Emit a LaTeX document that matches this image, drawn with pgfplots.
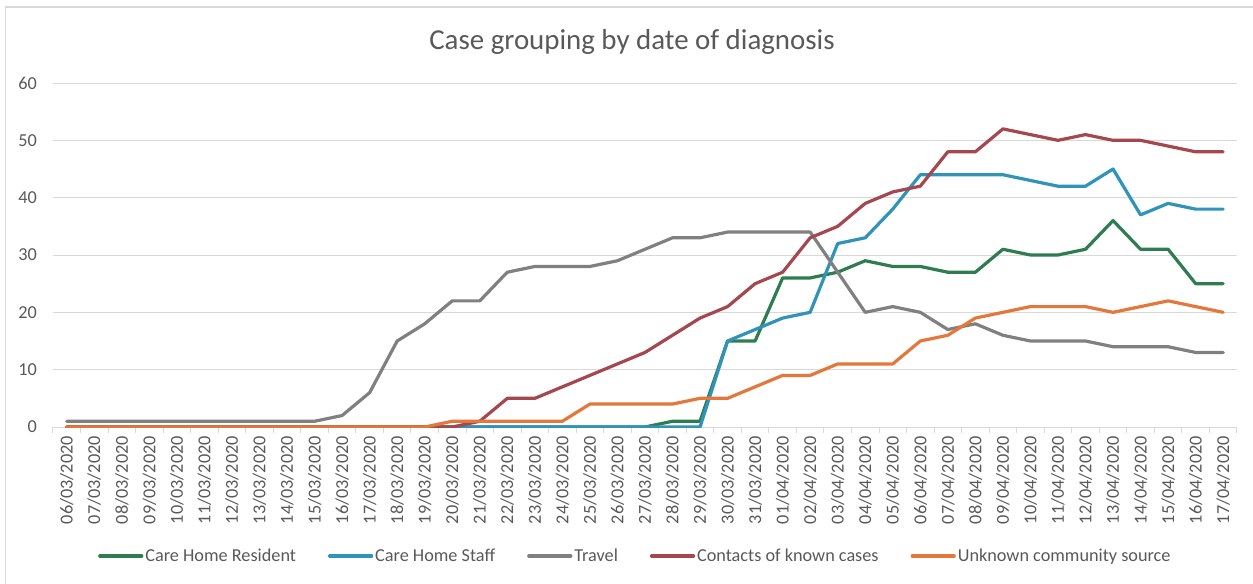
\documentclass[border=0pt]{standalone}
\usepackage{pgfplots}
\pgfplotsset{compat=1.18}
\usepackage{fontspec}
\setmainfont{Carlito}
\definecolor{cgreen}{RGB}{46,125,80}
\definecolor{cblue}{RGB}{47,147,186}
\definecolor{cgray}{RGB}{128,128,128}
\definecolor{cred}{RGB}{165,71,79}
\definecolor{corange}{RGB}{228,119,58}
\definecolor{gridgray}{RGB}{217,217,217}
\definecolor{txtgray}{RGB}{89,89,89}
\definecolor{bordergray}{RGB}{217,217,217}
\begin{document}
\begin{tikzpicture}
\begin{axis}[
  at={(0,0)}, anchor=south west,
  scale only axis, width=1184bp, height=344bp,
  xmin=-0.5, xmax=42.5, ymin=0, ymax=60,
  separate axis lines,
  axis x line*=bottom, axis y line*=left,
  x axis line style={draw=gridgray, line width=1bp},
  y axis line style={draw=none},
  ytick={0,10,...,60},
  ymajorgrids, grid style={draw=gridgray, line width=1bp},
  xtick={0,...,42},
  xticklabels={06/03/2020,07/03/2020,08/03/2020,09/03/2020,10/03/2020,11/03/2020,12/03/2020,13/03/2020,14/03/2020,15/03/2020,16/03/2020,17/03/2020,18/03/2020,19/03/2020,20/03/2020,21/03/2020,22/03/2020,23/03/2020,24/03/2020,25/03/2020,26/03/2020,27/03/2020,28/03/2020,29/03/2020,30/03/2020,31/03/2020,01/04/2020,02/04/2020,03/04/2020,04/04/2020,05/04/2020,06/04/2020,07/04/2020,08/04/2020,09/04/2020,10/04/2020,11/04/2020,12/04/2020,13/04/2020,14/04/2020,15/04/2020,16/04/2020,17/04/2020},
  minor xtick={-0.5,0.5,...,42.5},
  major tick length=0pt, minor tick length=6bp,
  tick align=outside,
  minor x tick style={draw=gridgray, line width=1bp},
  major tick style={draw=none},
  /pgf/number format/assume math mode=true,
  xticklabel style={rotate=90, anchor=east, inner sep=0pt, inner xsep=9bp, text=txtgray, font=\fontsize{18.3}{21}\selectfont},
  yticklabel style={anchor=east, inner sep=0pt, inner xsep=16bp, text=txtgray, font=\fontsize{18.3}{21}\selectfont},
  legend columns=5,
  legend cell align=left,
  legend style={at={(axis description cs:0.038,-0.375)}, anchor=west, draw=none, fill=none,
    inner sep=0pt, font=\fontsize{18.3}{21}\selectfont, text=txtgray,
    /tikz/every even column/.append style={column sep=30bp},
    nodes={inner sep=0pt, inner xsep=2bp}},
  legend image code/.code={\draw[#1, line width=3.2bp] (0bp,0bp) -- (42bp,0bp);},
  every axis plot/.append style={line width=3.2bp, line join=round, line cap=round},
]
\addplot[cgreen] table {
x y
0 0
1 0
2 0
3 0
4 0
5 0
6 0
7 0
8 0
9 0
10 0
11 0
12 0
13 0
14 0
15 0
16 0
17 0
18 0
19 0
20 0
21 0
22 1
23 1
24 15
25 15
26 26
27 26
28 27
29 29
30 28
31 28
32 27
33 27
34 31
35 30
36 30
37 31
38 36
39 31
40 31
41 25
42 25
};
\addlegendentry{Care Home Resident}
\addplot[cblue] table {
x y
0 0
1 0
2 0
3 0
4 0
5 0
6 0
7 0
8 0
9 0
10 0
11 0
12 0
13 0
14 0
15 0
16 0
17 0
18 0
19 0
20 0
21 0
22 0
23 0
24 15
25 17
26 19
27 20
28 32
29 33
30 38
31 44
32 44
33 44
34 44
35 43
36 42
37 42
38 45
39 37
40 39
41 38
42 38
};
\addlegendentry{Care Home Staff}
\addplot[cgray] table {
x y
0 1
1 1
2 1
3 1
4 1
5 1
6 1
7 1
8 1
9 1
10 2
11 6
12 15
13 18
14 22
15 22
16 27
17 28
18 28
19 28
20 29
21 31
22 33
23 33
24 34
25 34
26 34
27 34
28 27
29 20
30 21
31 20
32 17
33 18
34 16
35 15
36 15
37 15
38 14
39 14
40 14
41 13
42 13
};
\addlegendentry{Travel}
\addplot[cred] table {
x y
0 0
1 0
2 0
3 0
4 0
5 0
6 0
7 0
8 0
9 0
10 0
11 0
12 0
13 0
14 0
15 1
16 5
17 5
18 7
19 9
20 11
21 13
22 16
23 19
24 21
25 25
26 27
27 33
28 35
29 39
30 41
31 42
32 48
33 48
34 52
35 51
36 50
37 51
38 50
39 50
40 49
41 48
42 48
};
\addlegendentry{Contacts of known cases}
\addplot[corange] table {
x y
0 0
1 0
2 0
3 0
4 0
5 0
6 0
7 0
8 0
9 0
10 0
11 0
12 0
13 0
14 1
15 1
16 1
17 1
18 1
19 4
20 4
21 4
22 4
23 5
24 5
25 7
26 9
27 9
28 11
29 11
30 11
31 15
32 16
33 19
34 20
35 21
36 21
37 21
38 20
39 21
40 22
41 21
42 20
};
\addlegendentry{Unknown community source}
\end{axis}
\node[font=\fontsize{29}{35}\selectfont, text=txtgray] at (579bp,385bp) {Case grouping by date of diagnosis};
\draw[bordergray, line width=1.2bp] (-47.5bp,-200bp) -- (-47.5bp,420bp) -- (1300bp,420bp);
\pgfresetboundingbox
\path (-53bp,-157bp) rectangle (1200bp,427bp);
\end{tikzpicture}
\end{document}
